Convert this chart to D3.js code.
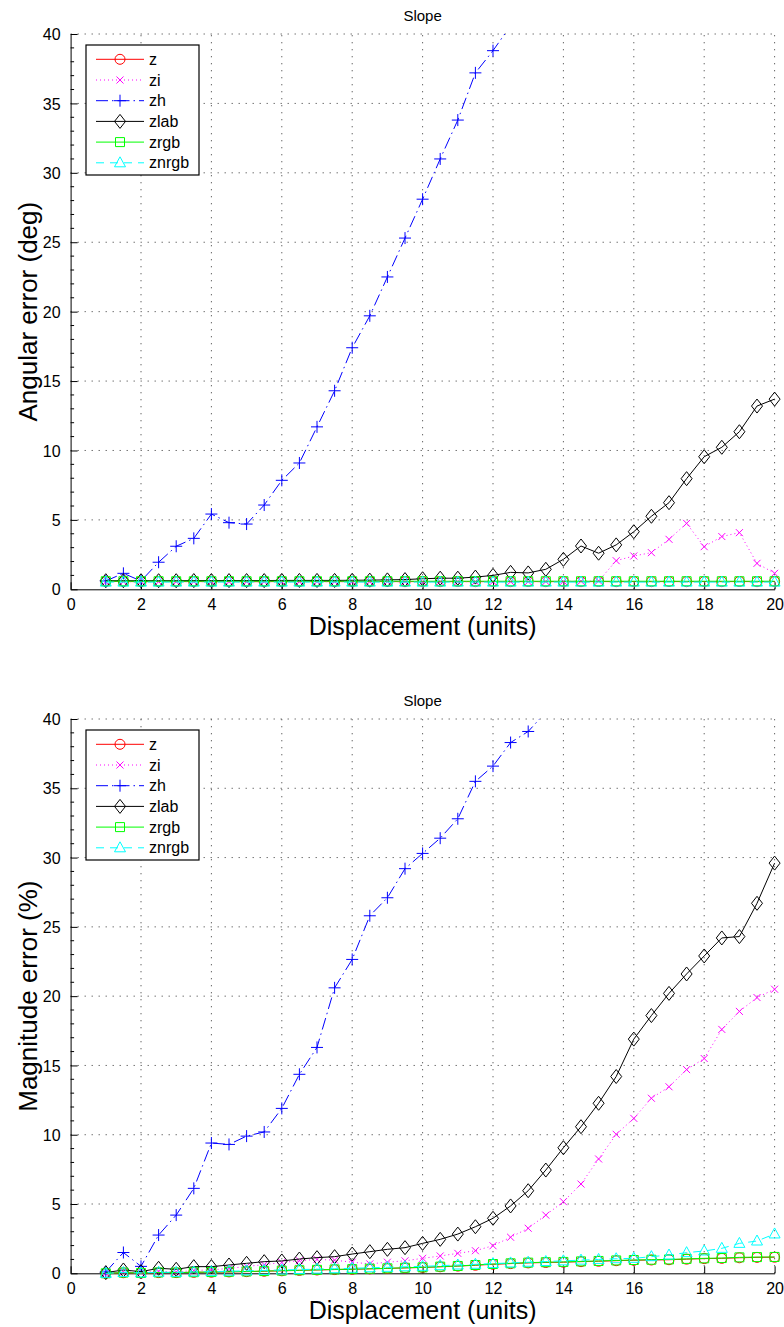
<!DOCTYPE html>
<html>
<head>
<meta charset="utf-8">
<script src="https://cdn.jsdelivr.net/npm/d3@7"></script>
<style>
  html, body { margin: 0; padding: 0; background: #fff; }
  svg { display: block; }
  text { font-family: "Liberation Sans", Arial, Helvetica, sans-serif; fill: #000; }
</style>
</head>
<body>
<svg id="chart" width="784" height="1327"></svg>
<script>
// Displacement steps shared by both panels
const displacement = [1,1.5,2,2.5,3,3.5,4,4.5,5,5.5,6,6.5,7,7.5,8,8.5,9,9.5,10,10.5,
                      11,11.5,12,12.5,13,13.5,14,14.5,15,15.5,16,16.5,17,17.5,18,18.5,19,19.5,20];

const xTicks = [0,2,4,6,8,10,12,14,16,18,20];
const yTicks = [0,5,10,15,20,25,30,35,40];
const seriesNames = ["z","zi","zh","zlab","zrgb","znrgb"];

// Angular error (deg)
const zAng     = [0.56,0.56,0.55,0.56,0.55,0.56,0.55,0.56,0.55,0.55,0.56,0.55,0.56,0.55,0.56,0.55,0.56,0.55,0.56,0.55,
                  0.56,0.55,0.56,0.55,0.56,0.55,0.56,0.55,0.56,0.55,0.56,0.55,0.56,0.55,0.56,0.55,0.56,0.55,0.56];
const ziAng    = [0.55,0.55,0.55,0.55,0.55,0.55,0.55,0.55,0.55,0.55,0.55,0.55,0.55,0.55,0.55,0.55,0.55,0.55,0.55,0.55,
                  0.55,0.55,0.55,0.55,0.55,0.56,0.57,0.58,0.6,2.06,2.4,2.64,3.6,4.75,3.07,3.8,4.08,1.87,1.15];
const zhAng    = [0.6,1.15,0.6,1.95,3.1,3.67,5.42,4.8,4.7,6.07,7.85,9.1,11.7,14.3,17.4,19.7,22.5,25.3,28.1,31.0,
                  33.8,37.2,38.8,40.6];
const zlabAng  = [0.62,0.62,0.62,0.62,0.62,0.63,0.63,0.63,0.63,0.63,0.64,0.64,0.64,0.64,0.65,0.66,0.68,0.7,0.76,0.8,
                  0.8,0.88,1.0,1.22,1.18,1.44,2.16,3.12,2.6,3.2,4.15,5.26,6.24,7.97,9.55,10.23,11.35,13.2,13.7];
const zrgbAng  = [0.58,0.58,0.58,0.58,0.58,0.58,0.58,0.58,0.58,0.58,0.58,0.58,0.58,0.58,0.58,0.58,0.58,0.58,0.58,0.58,
                  0.58,0.58,0.58,0.58,0.58,0.58,0.58,0.58,0.58,0.58,0.58,0.58,0.58,0.58,0.58,0.58,0.58,0.58,0.58];
const znrgbAng = [0.52,0.52,0.52,0.52,0.52,0.52,0.52,0.52,0.52,0.52,0.52,0.52,0.52,0.52,0.52,0.52,0.52,0.52,0.52,0.52,
                  0.52,0.52,0.52,0.52,0.52,0.52,0.52,0.52,0.52,0.52,0.52,0.52,0.52,0.52,0.52,0.52,0.52,0.52,0.52];

// Magnitude error (%)
const zMag     = [0.0,0.04,0.02,0.05,0.05,0.07,0.08,0.1,0.12,0.15,0.18,0.21,0.24,0.27,0.29,0.32,0.35,0.39,0.42,0.47,
                  0.52,0.58,0.65,0.7,0.75,0.78,0.8,0.84,0.87,0.91,0.94,0.96,0.98,1.02,1.06,1.08,1.12,1.15,1.16];
const ziMag    = [0.0,0.1,0.05,0.15,0.1,0.2,0.25,0.35,0.5,0.62,0.78,0.91,1.0,0.95,0.8,0.68,0.8,0.9,1.08,1.25,
                  1.44,1.63,1.99,2.6,3.25,4.2,5.17,6.44,8.25,10.03,11.18,12.63,13.46,14.7,15.5,17.6,18.9,19.9,20.5];
const zhMag    = [0.1,1.5,0.5,2.76,4.2,6.13,9.4,9.3,9.9,10.2,11.9,14.36,16.3,20.6,22.65,25.8,27.1,29.2,30.3,31.4,
                  32.8,35.5,36.6,38.3,39.1,40.5];
const zlabMag  = [0.05,0.24,0.12,0.36,0.29,0.48,0.48,0.6,0.72,0.84,0.89,1.03,1.13,1.2,1.39,1.56,1.73,1.85,2.16,2.45,
                  2.83,3.36,3.97,4.86,5.96,7.45,9.06,10.58,12.27,14.2,16.9,18.6,20.2,21.6,22.9,24.2,24.3,26.7,29.6];
const zrgbMag  = [0.0,0.05,0.02,0.06,0.05,0.08,0.09,0.11,0.13,0.16,0.19,0.22,0.25,0.28,0.3,0.33,0.36,0.4,0.43,0.48,
                  0.53,0.6,0.67,0.72,0.77,0.8,0.82,0.86,0.89,0.93,0.96,0.98,1.0,1.04,1.08,1.1,1.15,1.17,1.18];
const znrgbMag = [0.0,0.06,0.03,0.08,0.07,0.1,0.12,0.15,0.18,0.21,0.24,0.27,0.3,0.33,0.36,0.4,0.43,0.47,0.5,0.55,
                  0.6,0.65,0.7,0.75,0.8,0.85,0.9,0.95,1.0,1.05,1.08,1.2,1.32,1.49,1.61,1.8,2.16,2.33,2.84];

// Line/marker styling per series
const styles = {
  z:     { color: "#ff0000", dash: null,            marker: "circle"   },
  zi:    { color: "#ff00ff", dash: "1,3",           marker: "x"        },
  zh:    { color: "#0000ff", dash: "12,4,1.5,4",    marker: "plus"     },
  zlab:  { color: "#000000", dash: null,            marker: "diamond"  },
  zrgb:  { color: "#00ff00", dash: null,            marker: "square"   },
  znrgb: { color: "#00ffff", dash: "8,6",           marker: "triangle" }
};

const markerPaths = {
  circle:   "M-5,0A5,5 0 1,0 5,0A5,5 0 1,0 -5,0Z",
  x:        "M-3.5,-3.5L3.5,3.5M-3.5,3.5L3.5,-3.5",
  plus:     "M-6,0L6,0M0,-6L0,6",
  diamond:  "M0,-7L5.5,0L0,7L-5.5,0Z",
  square:   "M-4.5,-4.5H4.5V4.5H-4.5Z",
  triangle: "M0,-6L5.5,4L-5.5,4Z"
};

const panels = [
  { top: 34,  bottom: 589.3,  ylabel: "Angular error (deg)",
    data: { z: zAng, zi: ziAng, zh: zhAng, zlab: zlabAng, zrgb: zrgbAng, znrgb: znrgbAng } },
  { top: 719, bottom: 1273.3, ylabel: "Magnitude error (%)",
    data: { z: zMag, zi: ziMag, zh: zhMag, zlab: zlabMag, zrgb: zrgbMag, znrgb: znrgbMag } }
];

const svg = d3.select("#chart");
const x = d3.scaleLinear().domain([0, 20]).range([70.6, 774.6]);
const yMax = 40;

panels.forEach((p, pi) => {
  const y = d3.scaleLinear().domain([0, yMax]).range([p.bottom, p.top]);
  const g = svg.append("g");

  // dotted grid
  const grid = g.append("g").attr("stroke", "#555").attr("stroke-width", 1)
    .attr("stroke-dasharray", "1.2,5.8").attr("fill", "none");
  xTicks.filter(t => t > 0).forEach(t => {
    grid.append("line").attr("x1", x(t)).attr("x2", x(t)).attr("y1", y(0)).attr("y2", y(yMax));
  });
  yTicks.filter(t => t > 0).forEach(t => {
    grid.append("line").attr("x1", x(0)).attr("x2", x(20)).attr("y1", y(t)).attr("y2", y(t));
  });

  // axes (ticks point inward)
  const xAxis = d3.axisBottom(x).tickValues(xTicks).tickSize(-7).tickPadding(9).tickSizeOuter(0);
  const gx = g.append("g").attr("transform", `translate(0,${y(0)})`).call(xAxis);
  const yAxis = d3.axisLeft(y).tickValues(yTicks).tickSize(-7).tickPadding(10).tickSizeOuter(0);
  const gy = g.append("g").attr("transform", `translate(${x(0)},0)`).call(yAxis);
  [gx, gy].forEach(a => {
    a.select(".domain").attr("stroke", "#000").attr("stroke-width", 1);
    a.selectAll(".tick line").attr("stroke", "#000").attr("stroke-width", 1);
    a.selectAll(".tick text").attr("font-size", 16)
      .attr("font-family", '"Liberation Sans", Arial, sans-serif').attr("fill", "#000");
  });
  gx.selectAll(".tick text").attr("dy", "0.71em");
  gy.selectAll(".tick text").attr("dy", "0.35em");
  // minor ticks on the y axis
  const minor = d3.range(0, yMax + 1).filter(v => v % 5 !== 0);
  g.append("g").selectAll("line").data(minor).join("line")
    .attr("x1", x(0)).attr("x2", x(0) + 3.5)
    .attr("y1", d => y(d)).attr("y2", d => y(d))
    .attr("stroke", "#000").attr("stroke-width", 1);

  // titles
  g.append("text").attr("x", x(10)).attr("y", p.top - 13)
    .attr("text-anchor", "middle").attr("font-size", 15).text("Slope");
  g.append("text").attr("x", x(10)).attr("y", p.bottom + 46)
    .attr("text-anchor", "middle").attr("font-size", 25).text("Displacement (units)");
  g.append("text")
    .attr("transform", `translate(36.5,${(p.top + p.bottom) / 2}) rotate(-90)`)
    .attr("text-anchor", "middle").attr("font-size", 26).text(p.ylabel);

  // clip lines at the upper axis limit
  const clipId = "clip" + pi;
  svg.append("clipPath").attr("id", clipId).append("rect")
    .attr("x", 0).attr("y", p.top).attr("width", 784).attr("height", p.bottom - p.top + 30);

  const line = d3.line().x(d => x(d[0])).y(d => y(d[1]));
  const plot = g.append("g");
  seriesNames.forEach(name => {
    const st = styles[name];
    const vals = p.data[name];
    const pts = vals.map((v, i) => [displacement[i], v]);
    const s = plot.append("g");
    s.append("path").attr("d", line(pts)).attr("fill", "none")
      .attr("stroke", st.color).attr("stroke-width", 1)
      .attr("stroke-dasharray", st.dash)
      .attr("clip-path", `url(#${clipId})`);
    s.selectAll("path.mk").data(pts.filter(d => d[1] <= yMax)).join("path")
      .attr("class", "mk")
      .attr("d", markerPaths[st.marker])
      .attr("transform", d => `translate(${x(d[0])},${y(d[1])})`)
      .attr("fill", "none").attr("stroke", st.color).attr("stroke-width", 1);
  });

  // legend
  const lg = g.append("g").attr("transform", `translate(86,${p.top + 11})`);
  lg.append("rect").attr("x", 0).attr("y", 0).attr("width", 113).attr("height", 130)
    .attr("fill", "#fff").attr("stroke", "#000").attr("stroke-width", 1.2);
  seriesNames.forEach((name, i) => {
    const st = styles[name];
    const cy = 14.3 + i * 20.7;
    lg.append("line").attr("x1", 10).attr("x2", 58).attr("y1", cy).attr("y2", cy)
      .attr("stroke", st.color).attr("stroke-width", 1).attr("stroke-dasharray", st.dash);
    lg.append("path").attr("d", markerPaths[st.marker])
      .attr("transform", `translate(34,${cy})`)
      .attr("fill", "none").attr("stroke", st.color).attr("stroke-width", 1);
    lg.append("text").attr("x", 63).attr("y", cy + 5.5).attr("font-size", 16).text(name);
  });
});
</script>
</body>
</html>
